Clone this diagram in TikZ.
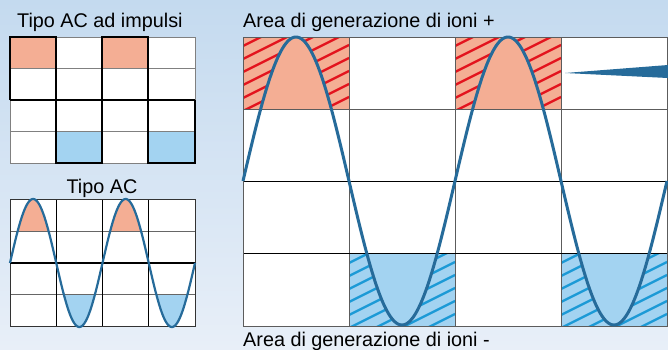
\documentclass[tikz,border=0pt]{standalone}
\usepackage{fontspec}
\setmainfont{Liberation Sans}
\definecolor{salmon}{HTML}{F4AE94}
\definecolor{lblue}{HTML}{A3D3F1}
\definecolor{hred}{HTML}{E3141E}
\definecolor{hblue}{HTML}{1C9AD6}
\definecolor{sinec}{HTML}{266B9A}
\definecolor{bgtop}{HTML}{C4DAEF}
\definecolor{bgbot}{HTML}{E8EFF8}
\definecolor{gridg}{HTML}{5C5C5C}
\tikzset{
  lbl/.style={inner sep=0pt, anchor=base west, font=\fontsize{19.8}{22}\selectfont},
  hatchr/.style={hred, line width=2.4pt},
  hatchb/.style={hblue, line width=2.4pt},
  thingrid/.style={gridg, line width=1pt},
  darkgrid/.style={black, line width=1pt},
  pulse/.style={black, line width=2.4pt, line join=miter},
  wave/.style={sinec, line width=3pt},
  smallwave/.style={sinec, line width=2.2pt},
}
\begin{document}
\begin{tikzpicture}[x=1pt,y=-1pt]
\useasboundingbox (0,0) rectangle (668,349);
\shade[top color=bgtop, bottom color=bgbot] (0,0) rectangle (668,349);

% ===== Titles =====
\node[lbl] (t1) at (17,27) {Tipo AC ad impulsi};
\node[lbl, anchor=base] (t2) at (102,193) {Tipo AC};
\node[lbl] (t3) at (243,27) {Area di generazione di ioni +};
\node[lbl] (t4) at (243,346) {Area di generazione di ioni -};

% ===== Pulse grid =====
\fill[white] (10,37) rectangle (195,163);
\fill[salmon] (10,37) rectangle (56,68);
\fill[salmon] (102,37) rectangle (148,68);
\fill[lblue] (56,131) rectangle (102,163);
\fill[lblue] (148,131) rectangle (195,163);
\draw[thingrid, gray] (10,37) rectangle (195,163);
\foreach \yy in {68,131} \draw[thingrid, gray] (10,\yy) -- (195,\yy);
\draw[pulse] (10,100) -- (10,37) -- (56,37) -- (56,163) -- (102,163) -- (102,37) -- (148,37) -- (148,163) -- (195,163) -- (195,100);
\draw[pulse] (10,100) -- (195,100);

% ===== Tipo AC grid =====
\fill[white] (10,199) rectangle (195,326);
\fill[salmon] plot[variable=\t, domain=7.708:38.542, samples=40] ({10+\t},{263-64*sin(\t*3.891892)}) -- cycle;
\fill[salmon] plot[variable=\t, domain=100.208:131.042, samples=40] ({10+\t},{263-64*sin(\t*3.891892)}) -- cycle;
\fill[lblue] plot[variable=\t, domain=53.958:84.792, samples=40] ({10+\t},{263-64*sin(\t*3.891892)}) -- cycle;
\fill[lblue] plot[variable=\t, domain=146.458:177.292, samples=40] ({10+\t},{263-64*sin(\t*3.891892)}) -- cycle;
\foreach \yy in {231,294} \draw[thingrid, gray!80!black] (10,\yy) -- (195,\yy);
\foreach \xx in {56,102,148} \draw[darkgrid] (\xx,199) -- (\xx,326);
\draw[darkgrid, black!80] (10,199) rectangle (195,326);
\draw[black, line width=1.8pt] (10,263) -- (195,263);
\draw[smallwave] plot[variable=\t, domain=0:185, samples=200] ({10+\t},{263-64*sin(\t*3.891892)});

% ===== Big grid =====
\fill[white] (243,37) rectangle (667,326);
\fill[salmon] (243,37) rectangle (349,109);
\fill[salmon] (455,37) rectangle (561,109);
\fill[lblue] (349,253) rectangle (455,326);
\fill[lblue] (561,253) rectangle (667,326);
\begin{scope}
  \clip (243,37) rectangle (349,109);
  \foreach \c in {33,46,...,175} \draw[hatchr] (243,\c) -- ++(106,-53);
\end{scope}
\begin{scope}
  \clip (455,37) rectangle (561,109);
  \foreach \c in {33,46,...,175} \draw[hatchr] (455,\c) -- ++(106,-53);
\end{scope}
\begin{scope}
  \clip (349,253) rectangle (455,326);
  \foreach \c in {250,263,...,392} \draw[hatchb] (349,\c) -- ++(106,-53);
\end{scope}
\begin{scope}
  \clip (561,253) rectangle (667,326);
  \foreach \c in {250,263,...,392} \draw[hatchb] (561,\c) -- ++(106,-53);
\end{scope}
\fill[salmon] plot[variable=\t, domain=17.667:88.333, samples=60] ({243+\t},{181-144*sin(\t*1.698113)}) -- cycle;
\fill[salmon] plot[variable=\t, domain=229.667:300.333, samples=60] ({243+\t},{181-144*sin(\t*1.698113)}) -- cycle;
\fill[lblue] plot[variable=\t, domain=123.667:194.333, samples=60] ({243+\t},{181-144*sin(\t*1.698113)}) -- cycle;
\fill[lblue] plot[variable=\t, domain=335.667:406.333, samples=60] ({243+\t},{181-144*sin(\t*1.698113)}) -- cycle;
\foreach \xx in {349,455,561} \draw[thingrid] (\xx,37) -- (\xx,326);
\draw[thingrid] (243,109) -- (667,109);
\draw[darkgrid] (243,181) -- (667,181);
\draw[darkgrid] (243,253) -- (667,253);
\draw[thingrid] (243,37) rectangle (667,326);
\draw[wave] plot[variable=\t, domain=0:424, samples=300] ({243+\t},{181-144*sin(\t*1.698113)});
\fill[sinec] (565,73) -- (668,65) -- (668,78) -- cycle;
\end{tikzpicture}
\end{document}
